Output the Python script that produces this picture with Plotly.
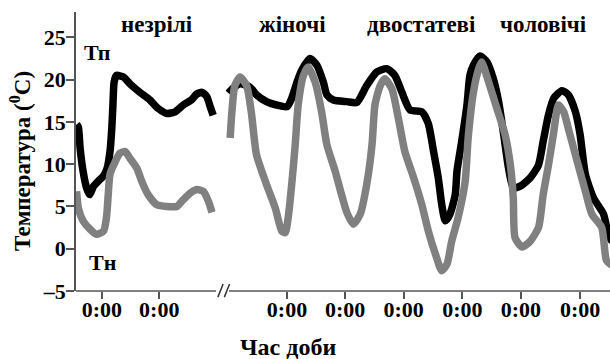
import plotly.graph_objects as go

# Time in days from the left edge of the axis; temperature in °C
tp_left_t = [0.01, 0.04, 0.07, 0.12, 0.18, 0.23, 0.30, 0.38, 0.47, 0.53, 0.58, 0.61, 0.63, 0.65, 0.69, 0.81,
             0.92, 1.09, 1.26, 1.40, 1.55, 1.69, 1.83, 1.97, 2.06, 2.15, 2.23, 2.29, 2.34]
tp_left_v = [14.7, 14.4, 11.9, 9.2, 7.2, 6.4, 7.4, 8.0, 8.6, 9.5, 11.5, 14.2, 17.0, 19.7, 20.5, 20.3,
             19.5, 18.5, 17.6, 16.6, 16.0, 16.2, 17.0, 17.6, 18.3, 18.5, 18.0, 16.8, 15.8]

tn_left_t = [0.01, 0.04, 0.12, 0.24, 0.35, 0.47, 0.52, 0.55, 0.58, 0.67, 0.75, 0.84, 0.92, 1.04, 1.12, 1.23,
             1.38, 1.55, 1.72, 1.83, 1.95, 2.06, 2.17, 2.26, 2.32]
tn_left_v = [6.8, 4.8, 3.3, 2.3, 1.7, 2.1, 3.7, 6.4, 8.8, 10.3, 11.3, 11.5, 10.7, 9.5, 8.0, 6.4,
             5.2, 5.0, 5.0, 5.8, 6.6, 7.0, 6.8, 5.6, 4.3]

tp_right_t = [2.60, 2.68, 2.80, 2.97, 3.08, 3.25, 3.42, 3.60, 3.68, 3.77, 3.85, 3.99, 4.11, 4.22, 4.28, 4.39,
              4.62, 4.79, 4.96, 5.13, 5.30, 5.44, 5.56, 5.70, 5.90, 6.01, 6.10, 6.18, 6.24, 6.30, 6.38,
              6.47, 6.50, 6.58, 6.67, 6.72, 6.78, 6.89, 7.01, 7.12, 7.21, 7.29, 7.38, 7.46, 7.58, 7.75,
              7.89, 7.97, 8.06, 8.15, 8.29, 8.40, 8.52, 8.60, 8.69, 8.83, 9.00, 9.08, 9.15]
tp_right_v = [18.4, 19.0, 19.5, 19.1, 18.2, 17.4, 17.0, 16.8, 17.8, 19.7, 21.1, 22.5, 21.7, 19.7, 18.2, 17.6,
              17.4, 17.3, 19.3, 20.9, 21.3, 20.5, 18.5, 16.4, 16.2, 14.8, 11.5, 8.4, 5.2, 3.3, 4.1,
              6.4, 9.2, 12.7, 17.0, 20.5, 21.7, 22.8, 22.1, 20.1, 17.4, 13.8, 9.5, 7.2, 7.4, 8.4,
              9.9, 12.7, 15.8, 17.8, 18.7, 18.2, 16.2, 13.5, 8.8, 6.0, 4.1, 1.7, 0.8]

tn_right_t = [2.63, 2.66, 2.71, 2.80, 2.91, 2.99, 3.08, 3.25, 3.40, 3.51, 3.57, 3.62, 3.68, 3.74, 3.79, 3.88,
              3.96, 4.08, 4.19, 4.28, 4.42, 4.53, 4.62, 4.73, 4.85, 4.96, 5.05, 5.10, 5.19, 5.27, 5.39,
              5.50, 5.61, 5.76, 5.90, 6.01, 6.13, 6.24, 6.33, 6.41, 6.52, 6.64, 6.69, 6.78, 6.87, 6.92,
              7.04, 7.18, 7.32, 7.41, 7.46, 7.49, 7.61, 7.75, 7.89, 7.97, 8.06, 8.15, 8.23, 8.32, 8.40,
              8.52, 8.69, 8.80, 8.97, 9.05, 9.15]
tn_right_v = [13.1, 16.2, 19.3, 20.3, 19.3, 16.2, 11.1, 7.6, 4.8, 2.1, 1.9, 3.7, 7.6, 12.3, 17.0, 20.5,
              21.5, 19.7, 16.2, 12.3, 9.2, 6.4, 4.3, 2.9, 4.1, 7.6, 12.3, 17.0, 19.3, 20.1, 18.9,
              15.4, 11.5, 8.4, 5.2, 2.1, -0.6, -2.6, -1.8, 0.9, 3.7, 8.0, 13.1, 18.5, 21.3, 22.1,
              19.7, 16.6, 13.5, 9.9, 6.0, 1.3, 0.2, 0.9, 2.5, 6.4, 9.9, 13.8, 17.0, 16.2, 14.2,
              11.1, 6.8, 4.1, 2.5, -1.4, -2.0]

midnight_ticks = [0.44, 1.42, 3.60, 4.59, 5.59, 6.59, 7.59, 8.60]
midnight_labels = ["0:00"] * len(midnight_ticks)
y_ticks = [-5, 0, 5, 10, 15, 20, 25]

groups = ["незрілі", "жіночі", "двостатеві", "чоловічі"]
group_x = [1.38, 3.69, 5.89, 7.98]

FONT = "Liberation Serif, Times New Roman, serif"
BLACK = "#000000"
GREY = "#808080"

fig = go.Figure()
for t, v in [(tp_left_t, tp_left_v), (tp_right_t, tp_right_v)]:
    fig.add_trace(go.Scatter(x=t, y=v, mode="lines",
                             line=dict(color=BLACK, width=7.5, shape="spline", smoothing=0.6),
                             showlegend=False, hoverinfo="skip"))
for t, v in [(tn_left_t, tn_left_v), (tn_right_t, tn_right_v)]:
    fig.add_trace(go.Scatter(x=t, y=v, mode="lines",
                             line=dict(color=GREY, width=7.5, shape="spline", smoothing=0.6),
                             showlegend=False, hoverinfo="skip"))

annotations = []
for g, gx in zip(groups, group_x):
    annotations.append(dict(x=gx, y=26.5, xref="x", yref="y", text=f"<b>{g}</b>", showarrow=False,
                            font=dict(family=FONT, size=23, color=BLACK)))
annotations.append(dict(x=0.375, y=23.2, xref="x", yref="y", text="<b>Тп</b>", showarrow=False,
                        font=dict(family=FONT, size=22, color=BLACK)))
annotations.append(dict(x=0.46, y=-1.6, xref="x", yref="y", text="<b>Тн</b>", showarrow=False,
                        font=dict(family=FONT, size=22, color=BLACK)))
annotations.append(dict(x=0.397, y=-0.2, xref="paper", yref="paper", text="<b>Час доби</b>",
                        showarrow=False, xanchor="center", yanchor="middle",
                        font=dict(family=FONT, size=24, color=BLACK)))
annotations.append(dict(x=-0.103, y=0.466, xref="paper", yref="paper",
                        text="<b>Температура (<sup>0</sup>C)</b>", textangle=-90,
                        xanchor="center", yanchor="middle",
                        showarrow=False, font=dict(family=FONT, size=23, color=BLACK)))

shapes = [
    dict(type="line", xref="x", yref="paper", x0=0, x1=2.39, y0=0, y1=0,
         line=dict(color="#555555", width=1.5)),
    dict(type="line", xref="x", yref="paper", x0=2.61, x1=9.2, y0=0, y1=0,
         line=dict(color="#555555", width=1.5)),
    dict(type="line", xref="x", yref="paper", x0=2.42, x1=2.51, y0=-0.022, y1=0.025,
         line=dict(color="#333333", width=1.5)),
    dict(type="line", xref="x", yref="paper", x0=2.53, x1=2.62, y0=-0.022, y1=0.025,
         line=dict(color="#333333", width=1.5)),
]

fig.update_layout(
    width=610, height=359,
    margin=dict(l=76, r=0, t=12, b=68),
    paper_bgcolor="white", plot_bgcolor="white",
    annotations=annotations, shapes=shapes,
    xaxis=dict(range=[0, 9.11], showgrid=False, zeroline=False, showline=False,
               tickmode="array", tickvals=midnight_ticks,
               ticktext=[f"<b>{s}</b>" for s in midnight_labels],
               ticks="outside", ticklen=7, tickwidth=1.5, tickcolor="#555555",
               ticklabelstandoff=-8,
               tickfont=dict(family=FONT, size=22, color=BLACK)),
    yaxis=dict(range=[-5, 28], showgrid=False, zeroline=False, showline=True,
               linecolor="#555555", linewidth=1.5,
               tickmode="array", tickvals=y_ticks,
               ticktext=[f"<b>{v}</b>" if v >= 0 else f"<b>–{abs(v)}</b>" for v in y_ticks],
               ticks="outside", ticklen=8, tickwidth=1.5, tickcolor="#555555",
               ticklabelstandoff=-4,
               tickfont=dict(family=FONT, size=22, color=BLACK)),
)

fig.write_html("out.html", config={"displayModeBar": False},
               post_script="document.body.style.margin='0';")
